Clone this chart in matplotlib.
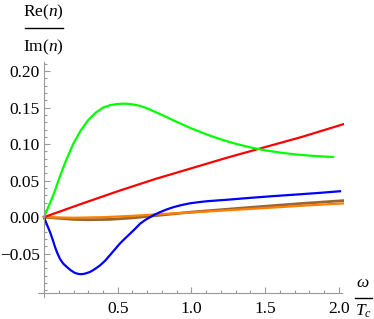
import matplotlib
matplotlib.use("Agg")
import matplotlib.pyplot as plt
from matplotlib.ticker import MultipleLocator, FixedLocator, FuncFormatter

# values (omega / T_c vs Re(n)/Im(n))
w_green = [0, 0.063, 0.108, 0.154, 0.2, 0.25, 0.3, 0.35, 0.4, 0.45, 0.5, 0.55, 0.6,
           0.65, 0.7, 0.8, 0.9, 1.0, 1.1, 1.2, 1.3, 1.4, 1.5, 1.6, 1.7, 1.8, 1.9, 1.96]
y_green = [0, 0.030, 0.056, 0.080, 0.101, 0.119, 0.133, 0.143, 0.150, 0.1535, 0.155,
           0.1555, 0.1545, 0.1525, 0.149, 0.140, 0.1305, 0.1215, 0.1135, 0.1065, 0.1005,
           0.0955, 0.0915, 0.0885, 0.086, 0.0843, 0.083, 0.0825]

w_red = [0, 0.25, 0.5, 0.75, 1.0, 1.25, 1.5, 1.75, 2.04]
y_red = [0, 0.018, 0.0355, 0.052, 0.067, 0.082, 0.096, 0.110, 0.128]

w_blue = [0, 0.02, 0.041, 0.06, 0.075, 0.09, 0.108, 0.13, 0.154, 0.18, 0.21, 0.235,
          0.256, 0.28, 0.312, 0.345, 0.38, 0.415, 0.447, 0.48, 0.515, 0.55, 0.583,
          0.62, 0.651, 0.685, 0.719, 0.75, 0.786, 0.83, 0.877, 0.93, 0.99, 1.05,
          1.103, 1.18, 1.25, 1.4, 1.55, 1.71, 1.85, 2.007]
y_blue = [0, -0.0102, -0.0205, -0.0315, -0.041, -0.049, -0.057, -0.0635, -0.068,
          -0.0725, -0.0764, -0.0778, -0.078, -0.0772, -0.075, -0.071, -0.066, -0.0595,
          -0.052, -0.0442, -0.036, -0.029, -0.0227, -0.0155, -0.009, -0.004, 0.0,
          0.0035, 0.0068, 0.0105, 0.0137, 0.0165, 0.019, 0.0206, 0.0218, 0.023, 0.024,
          0.0265, 0.0288, 0.031, 0.033, 0.0355]

w_brown = [0, 0.1, 0.2, 0.3, 0.45, 0.6, 0.75, 1.0, 1.25, 1.5, 1.75, 2.04]
y_brown = [0, -0.0015, -0.003, -0.0035, -0.003, -0.001, 0.002, 0.007, 0.011, 0.015, 0.0188, 0.0228]

w_orange = [0, 0.2, 0.4, 0.6, 0.79, 1.0, 1.25, 1.5, 1.75, 2.04]
y_orange = [0, -0.0008, 0.0, 0.0018, 0.0042, 0.0065, 0.0095, 0.0125, 0.0157, 0.019]

x_major = [0.5, 1.0, 1.5, 2.0]
y_major = [-0.05, 0.0, 0.05, 0.10, 0.15, 0.20]

plt.rcParams["font.family"] = "serif"
plt.rcParams["font.serif"] = ["Liberation Serif", "DejaVu Serif"]
plt.rcParams["mathtext.fontset"] = "custom"
plt.rcParams["mathtext.rm"] = "Liberation Serif"
plt.rcParams["mathtext.it"] = "Liberation Serif:italic"

fig = plt.figure(figsize=(3.74, 3.19), dpi=100)
ax = fig.add_axes([38 / 374, 22 / 319, 306 / 374, 235 / 319])

lw = 1.6
ax.plot(w_brown, y_brown, color="#996633", lw=2.0, solid_capstyle="butt")
ax.plot(w_orange, y_orange, color="#ff8000", lw=lw)
ax.plot(w_blue, y_blue, color="#0000ff", lw=lw)
ax.plot(w_red, y_red, color="#ff0000", lw=lw)
ax.plot(w_green, y_green, color="#00ff00", lw=lw)

ax.set_xlim(-0.0407, 2.034)
ax.set_ylim(-0.1093, 0.2125)

for s in ["top", "right"]:
    ax.spines[s].set_visible(False)
ax.spines["left"].set_position(("data", 0))
ax.spines["bottom"].set_position(("data", -0.104))
ax.spines["left"].set_bounds(-0.1093, 0.2125)
ax.spines["bottom"].set_bounds(-0.0407, 2.02)
for s in ["left", "bottom"]:
    ax.spines[s].set_color("#999999")
    ax.spines[s].set_linewidth(0.8)

ax.xaxis.set_major_locator(FixedLocator(x_major))
ax.xaxis.set_minor_locator(MultipleLocator(0.1))
ax.yaxis.set_major_locator(FixedLocator(y_major))
ax.yaxis.set_minor_locator(MultipleLocator(0.01))
ax.xaxis.set_major_formatter(FuncFormatter(lambda v, p: f"{v:.1f}"))
ax.yaxis.set_major_formatter(FuncFormatter(lambda v, p: f"{v:.2f}".replace("-", "\u2212")))
ax.tick_params(which="both", direction="in", color="#999999", width=0.8,
               labelsize=12.5, labelcolor="black")
ax.tick_params(which="major", length=4)
ax.tick_params(which="minor", length=2.2)
ax.tick_params(axis="y", pad=3)
ax.tick_params(axis="x", pad=6)

# axis labels as stacked fractions
fig.text(43 / 374, 1 - 12 / 319, r"$\mathrm{Re}(n)$", ha="center", va="center", fontsize=12.5)
fig.text(43 / 374, 1 - 47 / 319, r"$\mathrm{Im}(n)$", ha="center", va="center", fontsize=12.5)
fig.add_artist(plt.Line2D([25 / 374, 63 / 374], [1 - 28 / 319, 1 - 28 / 319],
                          color="black", lw=1.0))
fig.text(363 / 374, 1 - 283 / 319, r"$\omega$", ha="center", va="center", fontsize=12.5)
fig.text(363 / 374, 1 - 311 / 319, r"$T_c$", ha="center", va="center", fontsize=12.5)
fig.add_artist(plt.Line2D([355 / 374, 372 / 374], [1 - 298 / 319, 1 - 298 / 319],
                          color="black", lw=1.0))

fig.savefig("out.png", dpi=100)
